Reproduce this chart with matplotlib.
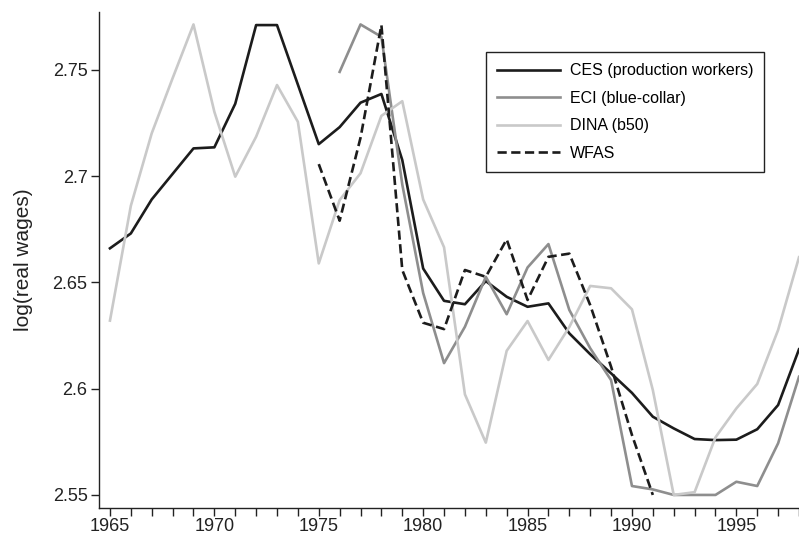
import matplotlib

matplotlib.use("Agg")

import matplotlib.pyplot as plt
from matplotlib.ticker import MultipleLocator

plt.rcParams["font.family"] = ["Liberation Sans", "DejaVu Sans"]

OUT_PATH = "out.png"
DPI = 100
FIGSIZE = (7.99, 5.36)
LINEWIDTH = 1.9

# CES (production workers), 1965-1998
ces_years = list(range(1965, 1999))
ces_values = [
    2.666, 2.673, 2.689, 2.701, 2.713, 2.7135, 2.734, 2.771, 2.771, 2.743,
    2.715, 2.723, 2.7345, 2.7386, 2.7075, 2.6565, 2.6413, 2.6397, 2.6506, 2.6432,
    2.6385, 2.6401, 2.626, 2.6162, 2.6072, 2.598, 2.5868, 2.5813, 2.5763, 2.5758,
    2.576, 2.5809, 2.5923, 2.6185,
]

# ECI (blue-collar), 1976-1998
eci_years = list(range(1976, 1999))
eci_values = [
    2.749, 2.7713, 2.7655, 2.696, 2.645, 2.612, 2.6291, 2.6526, 2.635, 2.657,
    2.668, 2.637, 2.619, 2.604, 2.5542, 2.5526, 2.55, 2.55, 2.55, 2.5562,
    2.5542, 2.5743, 2.6056,
]

# DINA (b50), 1965-1998
dina_years = list(range(1965, 1999))
dina_values = [
    2.632, 2.686, 2.7201, 2.746, 2.7713, 2.7302, 2.6997, 2.7185, 2.7428, 2.7255,
    2.6589, 2.6887, 2.7013, 2.7283, 2.7352, 2.689, 2.6665, 2.5973, 2.5746, 2.6178,
    2.6318, 2.6135, 2.629, 2.6483, 2.6472, 2.6373, 2.5993, 2.55, 2.5513, 2.5771,
    2.5907, 2.6022, 2.6276, 2.6618,
]

# WFAS, 1975-1991
wfas_years = list(range(1975, 1992))
wfas_values = [
    2.7056, 2.679, 2.718, 2.771, 2.6558, 2.631, 2.628, 2.6558, 2.6526, 2.6702,
    2.6417, 2.662, 2.6635, 2.6393, 2.6103, 2.5782, 2.55,
]

Y_TICKS = [2.55, 2.6, 2.65, 2.7, 2.75]
Y_TICK_LABELS = ["2.55", "2.6", "2.65", "2.7", "2.75"]
X_TICKS = [1965, 1970, 1975, 1980, 1985, 1990, 1995]


def main():
    fig = plt.figure(figsize=FIGSIZE, dpi=DPI)
    ax = fig.add_axes([0.1243, 0.0528, 0.8757, 0.9242])

    ax.plot(ces_years, ces_values, color="#1c1c1c", lw=LINEWIDTH,
            label="CES (production workers)")
    ax.plot(eci_years, eci_values, color="#8e8e8e", lw=LINEWIDTH,
            label="ECI (blue-collar)")
    ax.plot(dina_years, dina_values, color="#c9c9c9", lw=LINEWIDTH,
            label="DINA (b50)")
    ax.plot(wfas_years, wfas_values, color="#1c1c1c", lw=LINEWIDTH,
            linestyle=(0, (3.5, 1.7)), label="WFAS")

    ax.set_xlim(1964.49, 1998.0)
    ax.set_ylim(2.544, 2.777)

    for side in ("top", "right"):
        ax.spines[side].set_visible(False)
    for side in ("left", "bottom"):
        ax.spines[side].set_color("#222222")
        ax.spines[side].set_linewidth(1.0)

    ax.set_xticks(X_TICKS)
    ax.xaxis.set_minor_locator(MultipleLocator(1))
    ax.set_yticks(Y_TICKS)
    ax.set_yticklabels(Y_TICK_LABELS)
    ax.tick_params(axis="both", which="both", direction="out", length=5.5,
                   width=1.0, color="#222222", labelsize=13, labelcolor="#222222")
    ax.tick_params(axis="x", pad=1.8)
    ax.tick_params(axis="y", pad=3)

    ax.set_ylabel("log(real wages)", fontsize=15, color="#222222", labelpad=14)

    leg = ax.legend(
        loc="upper left",
        bbox_to_anchor=(0.5522, 0.9193),
        fontsize=11.5,
        frameon=True,
        fancybox=False,
        handlelength=3.95,
        handletextpad=0.6,
        labelspacing=0.78,
        borderpad=0.7,
        borderaxespad=0.0,
    )
    frame = leg.get_frame()
    frame.set_edgecolor("#222222")
    frame.set_linewidth(1.0)
    frame.set_alpha(1.0)

    fig.savefig(OUT_PATH, dpi=DPI)
    plt.close(fig)


if __name__ == "__main__":
    main()
